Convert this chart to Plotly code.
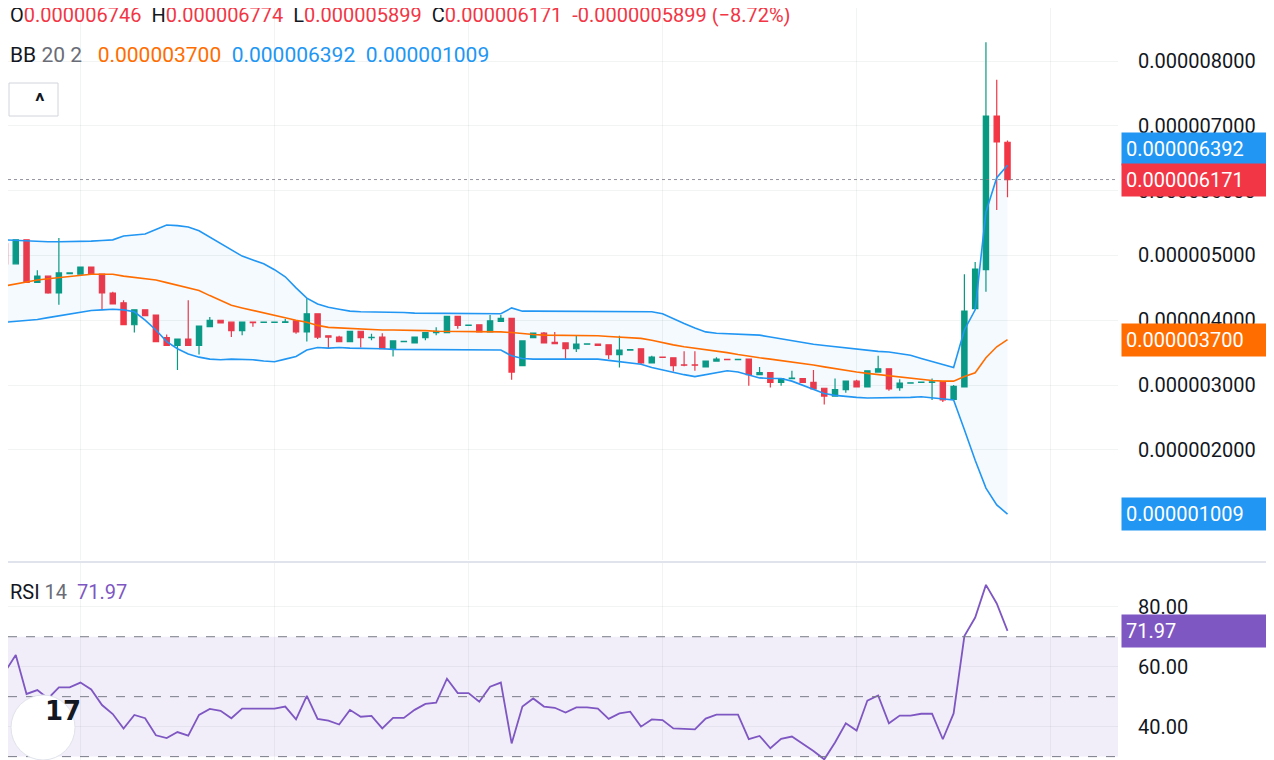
import numpy as np
import plotly.graph_objects as go
from plotly.subplots import make_subplots

# prices are in units of 1e-6
opens = [5.18, 4.87, 5.24, 4.585, 4.68, 4.42, 4.72, 4.71, 4.82, 4.71, 4.42, 4.27, 3.93, 4.16, 4.08, 3.73,
         3.61, 3.71, 3.61, 3.90, 4.00, 3.97, 3.84, 3.97, 3.965, 3.965, 3.965, 3.99, 3.82, 4.10, 3.76, 3.74,
         3.67, 3.83, 3.73, 3.74, 3.56, 3.67, 3.65, 3.73, 3.81, 3.81, 4.06, 3.92, 3.93, 3.82, 3.98, 4.03,
         3.30, 3.73, 3.80, 3.66, 3.65, 3.56, 3.63, 3.63, 3.62, 3.47, 3.54, 3.56, 3.34, 3.43, 3.42, 3.31,
         3.31, 3.28, 3.37, 3.395, 3.39, 3.40, 3.16, 3.19, 3.04, 3.10, 3.10, 3.04, 2.95, 2.83, 2.93, 3.06,
         2.97, 3.20, 3.25, 2.96, 3.03, 3.04, 3.04, 3.05, 2.78, 2.97, 4.18, 4.78, 7.15, 6.746]
highs = [5.20, 5.25, 5.24, 4.77, 4.69, 5.27, 4.74, 4.82, 4.82, 4.71, 4.44, 4.31, 4.16, 4.16, 4.08, 3.78,
         3.71, 4.31, 3.91, 4.05, 4.00, 3.97, 3.97, 3.97, 3.97, 3.97, 4.02, 3.99, 4.34, 4.10, 3.76, 3.76,
         3.83, 3.83, 3.79, 3.80, 3.68, 3.68, 3.74, 3.81, 3.89, 4.06, 4.06, 3.93, 3.93, 4.08, 4.08, 4.03,
         3.68, 3.80, 3.82, 3.82, 3.65, 3.77, 3.63, 3.63, 3.62, 3.76, 3.55, 3.56, 3.45, 3.43, 3.42, 3.52,
         3.52, 3.37, 3.43, 3.40, 3.40, 3.40, 3.28, 3.19, 3.10, 3.22, 3.10, 3.23, 2.95, 3.10, 3.06, 3.08,
         3.22, 3.45, 3.25, 3.09, 3.04, 3.05, 3.10, 3.05, 3.00, 4.71, 4.90, 8.29, 7.71, 6.774]
lows = [4.73, 4.87, 4.58, 4.58, 4.41, 4.24, 4.71, 4.71, 4.71, 4.16, 4.25, 3.93, 3.81, 4.07, 3.67, 3.61,
        3.23, 3.61, 3.47, 3.90, 3.96, 3.74, 3.77, 3.90, 3.96, 3.96, 3.96, 3.79, 3.67, 3.71, 3.57, 3.66,
        3.67, 3.58, 3.69, 3.56, 3.44, 3.66, 3.65, 3.69, 3.77, 3.81, 3.87, 3.91, 3.82, 3.82, 3.98, 3.08,
        3.30, 3.73, 3.65, 3.64, 3.39, 3.51, 3.62, 3.61, 3.40, 3.27, 3.53, 3.32, 3.34, 3.42, 3.21, 3.29,
        3.22, 3.27, 3.37, 3.39, 3.39, 2.99, 3.15, 2.96, 2.99, 3.09, 3.04, 2.94, 2.70, 2.83, 2.88, 2.97,
        2.97, 3.20, 2.91, 2.91, 3.02, 3.03, 2.77, 2.74, 2.77, 2.96, 4.18, 4.44, 5.70, 5.899]
closes = [4.87, 5.24, 4.585, 4.68, 4.42, 4.73, 4.73, 4.82, 4.71, 4.42, 4.25, 3.93, 4.16, 4.07, 3.67, 3.61,
          3.71, 3.61, 3.91, 4.00, 3.96, 3.84, 3.97, 3.962, 3.97, 3.97, 3.975, 3.82, 4.10, 3.74, 3.74, 3.67,
          3.83, 3.73, 3.735, 3.56, 3.68, 3.675, 3.74, 3.81, 3.83, 4.06, 3.92, 3.925, 3.82, 3.99, 4.03, 3.20,
          3.68, 3.80, 3.65, 3.64, 3.56, 3.63, 3.635, 3.61, 3.47, 3.54, 3.545, 3.34, 3.43, 3.425, 3.30, 3.305,
          3.305, 3.37, 3.40, 3.39, 3.395, 3.16, 3.19, 3.04, 3.10, 3.105, 3.04, 2.94, 2.83, 2.93, 3.06, 2.97,
          3.22, 3.25, 2.94, 3.03, 3.035, 3.045, 3.05, 2.77, 2.98, 4.14, 4.79, 7.15, 6.75, 6.171]

bb_upper = [5.24, 5.23, 5.22, 5.21, 5.21, 5.21, 5.21, 5.21, 5.22, 5.23, 5.24, 5.30, 5.32, 5.33, 5.40, 5.47,
            5.46, 5.44, 5.38, 5.28, 5.19, 5.09, 4.99, 4.93, 4.87, 4.78, 4.67, 4.50, 4.34, 4.25, 4.20, 4.17,
            4.14, 4.13, 4.13, 4.13, 4.12, 4.12, 4.11, 4.11, 4.11, 4.10, 4.10, 4.10, 4.10, 4.10, 4.10, 4.19,
            4.14, 4.14, 4.14, 4.14, 4.14, 4.14, 4.14, 4.14, 4.14, 4.14, 4.14, 4.13, 4.13, 4.10, 4.02, 3.95,
            3.88, 3.82, 3.80, 3.79, 3.78, 3.77, 3.77, 3.74, 3.71, 3.68, 3.66, 3.63, 3.61, 3.59, 3.58, 3.56,
            3.54, 3.52, 3.51, 3.49, 3.46, 3.41, 3.36, 3.31, 3.27, 3.85, 4.16, 5.67, 6.20, 6.392]
bb_mid = [4.53, 4.56, 4.60, 4.62, 4.64, 4.66, 4.68, 4.70, 4.71, 4.71, 4.71, 4.68, 4.66, 4.65, 4.62, 4.58,
          4.54, 4.50, 4.46, 4.38, 4.30, 4.23, 4.19, 4.15, 4.11, 4.08, 4.04, 4.00, 3.97, 3.92, 3.89, 3.88,
          3.87, 3.86, 3.86, 3.85, 3.85, 3.85, 3.84, 3.84, 3.83, 3.83, 3.83, 3.83, 3.83, 3.82, 3.82, 3.81,
          3.79, 3.78, 3.77, 3.77, 3.77, 3.76, 3.76, 3.76, 3.75, 3.74, 3.73, 3.72, 3.69, 3.65, 3.62, 3.59,
          3.57, 3.55, 3.53, 3.50, 3.47, 3.44, 3.42, 3.40, 3.38, 3.35, 3.33, 3.31, 3.28, 3.25, 3.22, 3.20,
          3.18, 3.16, 3.14, 3.12, 3.10, 3.08, 3.07, 3.06, 3.06, 3.13, 3.19, 3.42, 3.59, 3.700]
bb_lower = [3.97, 3.98, 3.99, 4.01, 4.04, 4.07, 4.10, 4.13, 4.15, 4.16, 4.17, 4.16, 4.13, 4.00, 3.85, 3.67,
            3.56, 3.48, 3.43, 3.40, 3.39, 3.40, 3.40, 3.39, 3.37, 3.36, 3.40, 3.44, 3.54, 3.58, 3.57, 3.58,
            3.57, 3.57, 3.56, 3.56, 3.55, 3.55, 3.54, 3.54, 3.54, 3.54, 3.54, 3.54, 3.54, 3.54, 3.54, 3.45,
            3.41, 3.40, 3.40, 3.40, 3.40, 3.40, 3.40, 3.40, 3.38, 3.36, 3.34, 3.32, 3.27, 3.23, 3.20, 3.16,
            3.13, 3.16, 3.20, 3.22, 3.20, 3.15, 3.11, 3.10, 3.10, 3.06, 3.00, 2.93, 2.87, 2.84, 2.82, 2.81,
            2.80, 2.80, 2.80, 2.80, 2.81, 2.82, 2.80, 2.79, 2.77, 2.31, 1.84, 1.41, 1.15, 1.009]

rsi = [58.3, 63.9, 50.9, 52.2, 49.4, 53.1, 53.1, 54.7, 52.4, 47.2, 44.2, 39.4, 43.9, 42.8, 37.1, 36.2,
       38.2, 37.0, 43.9, 45.9, 45.3, 42.8, 46.0, 46.0, 46.0, 46.0, 46.7, 42.4, 50.3, 42.6, 42.0, 40.7,
       45.6, 43.3, 43.6, 39.4, 42.9, 42.9, 45.6, 47.6, 48.0, 56.0, 51.2, 51.2, 48.3, 53.3, 54.7, 34.4,
       46.7, 49.4, 46.7, 46.3, 44.7, 46.4, 46.4, 46.0, 42.6, 44.4, 45.0, 40.0, 42.4, 42.2, 39.4, 39.3,
       39.1, 42.7, 44.0, 44.0, 44.0, 35.8, 36.9, 32.8, 35.9, 36.7, 34.4, 31.9, 29.1, 34.7, 41.1, 38.7,
       48.7, 50.4, 41.1, 43.7, 43.7, 44.3, 44.3, 35.8, 44.4, 70.2, 76.4, 87.3, 81.1, 71.97]

price_ticks = [2, 3, 4, 5, 6, 7, 8, 9]
rsi_ticks = [40, 60, 80]

SCALE = 1e-6
UP, DOWN = "#089981", "#F23645"
BLUE, ORANGE, PURPLE = "#2196F3", "#FF6D00", "#7E57C2"
FONT = "Roboto"
W, H, PLOT_W = 1274, 760, 1110


# page has an 8px body margin, so convert reference pixels to paper coords
def px(rx):
    return (rx - 8) / PLOT_W


def py(ry):
    return 1 - (ry - 8) / H


x = np.arange(len(closes))
sc = lambda a: np.array(a) * SCALE

fig = make_subplots(rows=2, cols=1, shared_xaxes=True)

fig.add_trace(go.Scatter(x=x, y=sc(bb_upper), mode="lines", line=dict(color=BLUE, width=1.6),
                         hoverinfo="skip"), row=1, col=1)
fig.add_trace(go.Scatter(x=x, y=sc(bb_lower), mode="lines", line=dict(color=BLUE, width=1.6),
                         fill="tonexty", fillcolor="rgba(33,150,243,0.05)", hoverinfo="skip"), row=1, col=1)
fig.add_trace(go.Scatter(x=x, y=sc(bb_mid), mode="lines", line=dict(color=ORANGE, width=1.6),
                         hoverinfo="skip"), row=1, col=1)
fig.add_trace(go.Candlestick(x=x, open=sc(opens), high=sc(highs), low=sc(lows), close=sc(closes),
                             increasing=dict(line=dict(color=UP, width=1.2), fillcolor=UP),
                             decreasing=dict(line=dict(color=DOWN, width=1.2), fillcolor=DOWN),
                             whiskerwidth=0), row=1, col=1)

fig.add_trace(go.Scatter(x=x, y=rsi, mode="lines", line=dict(color=PURPLE, width=1.8)), row=2, col=1)

fig.update_layout(
    width=W, height=H, showlegend=False, plot_bgcolor="white", paper_bgcolor="white",
    margin=dict(l=0, r=W - PLOT_W, t=0, b=0),
    font=dict(family=FONT, color="#131722", size=20),
)
fig.update_xaxes(range=[0.28, 103.25], showticklabels=False, tickvals=[7, 25, 43, 61, 79, 97],
                 showgrid=True, gridcolor="rgba(42,46,57,0.06)", zeroline=False,
                 rangeslider_visible=False)
fig.update_yaxes(side="right", showgrid=True, gridcolor="rgba(42,46,57,0.06)", zeroline=False,
                 ticks="", ticklabelstandoff=19)
fig.update_layout(
    yaxis=dict(domain=[1 - 552 / H, 1], range=[0.30 * SCALE, 8.818 * SCALE],
               tickvals=list(sc(price_ticks)), tickformat=".9f"),
    yaxis2=dict(domain=[0, 205 / H], range=[26.2, 94.6], tickvals=rsi_ticks, tickformat=".2f"),
)

# RSI band and levels
fig.add_shape(type="rect", xref="x2 domain", yref="y2", x0=0, x1=1, y0=30, y1=70,
              fillcolor="rgba(126,87,194,0.1)", line_width=0, layer="below")
for lv in [70, 50, 30]:
    fig.add_shape(type="line", xref="x2 domain", yref="y2", x0=0, x1=1, y0=lv, y1=lv,
                  line=dict(color="#787B86", width=1, dash="dash"))
# pane separator
fig.add_shape(type="line", xref="paper", yref="paper", x0=0, x1=1.2, y0=py(562), y1=py(562),
              line=dict(color="#E0E3EB", width=2))
# last price line
fig.add_shape(type="line", xref="x domain", yref="y", x0=0, x1=1, y0=closes[-1] * SCALE,
              y1=closes[-1] * SCALE, line=dict(color="rgba(120,123,134,0.8)", width=1, dash="dot"))


# right-side value labels
def tag(yref, y, text, color, yshift=0):
    fig.add_annotation(xref="paper", yref=yref, x=1, y=y, xanchor="left", yanchor="middle",
                       text=text, showarrow=False, bgcolor=color, font=dict(color="white", size=20),
                       borderpad=4, xshift=3, yshift=yshift, width=138, align="left")


tag("y", bb_upper[-1] * SCALE, "0.000006392", BLUE, yshift=16)
tag("y", closes[-1] * SCALE, "0.000006171", DOWN)
tag("y", bb_mid[-1] * SCALE, "0.000003700", ORANGE)
tag("y", bb_lower[-1] * SCALE, "0.000001009", BLUE)
tag("y2", rsi[-1], "71.97", PURPLE)

# header legends
fig.add_annotation(xref="paper", yref="paper", x=0, y=py(1), xanchor="left", yanchor="top",
                   showarrow=False, font=dict(size=20),
                   text=("O<span style='color:#F23645'>0.000006746</span>  H<span style='color:#F23645'>0.000006774</span>"
                         "  L<span style='color:#F23645'>0.000005899</span>  C<span style='color:#F23645'>0.000006171"
                         "  -0.0000005899 (−8.72%)</span>"))
fig.add_annotation(xref="paper", yref="paper", x=0, y=py(41), xanchor="left", yanchor="top",
                   showarrow=False, font=dict(size=21),
                   text=("BB <span style='color:#6A6D78'>20 2</span>   <span style='color:#FF6D00'>0.000003700</span>"
                         "  <span style='color:#2196F3'>0.000006392</span>  <span style='color:#2196F3'>0.000001009</span>"))
fig.add_annotation(xref="paper", yref="paper", x=0, y=py(592), xanchor="left", yanchor="middle",
                   showarrow=False, font=dict(size=20),
                   text="RSI <span style='color:#6A6D78'>14</span>  <span style='color:#7E57C2'>71.97</span>")

# collapse button
fig.add_shape(type="rect", xref="paper", yref="paper", x0=px(9), x1=px(58), y0=py(116), y1=py(83),
              line=dict(color="#D1D4DC", width=1), fillcolor="white")
fig.add_annotation(xref="paper", yref="paper", x=px(33), y=py(101), text="<b>^</b>",
                   showarrow=False, font=dict(size=22), yanchor="middle")

# logo
fig.add_shape(type="circle", xref="paper", yref="paper", x0=px(11), x1=px(75), y0=py(760), y1=py(695),
              line=dict(color="#E0E3EB", width=1), fillcolor="white")
fig.add_annotation(xref="paper", yref="paper", x=px(43), y=py(728), text="<b>17</b>",
                   showarrow=False, font=dict(size=26, color="#131722", family="DejaVu Sans"))

fig.write_html("out.html")
